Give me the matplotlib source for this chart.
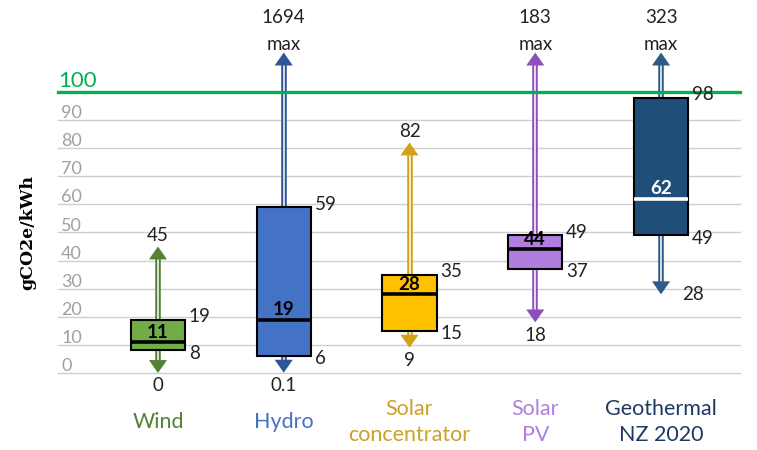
import numpy as np
import matplotlib.pyplot as plt
from matplotlib.patches import Rectangle, Polygon

# data (gCO2e/kWh)
categories = ['Wind', 'Hydro', 'Solar\nconcentrator', 'Solar\nPV', 'Geothermal\nNZ 2020']
mins = [0, 0.1, 9, 18, 28]
q1 = [8, 6, 15, 37, 49]
medians = [11, 19, 28, 44, 62]
q3 = [19, 59, 35, 49, 98]
maxs = [45, 1694, 82, 183, 323]
gridVals = [0, 10, 20, 30, 40, 50, 60, 70, 80, 90]
threshold = 100

boxColors = ['#70AD47', '#4472C4', '#FFC000', '#B07EDE', '#1F4E79']
arrowColors = ['#548235', '#2F5597', '#D4A017', '#8E50B8', '#2E5A87']
labelColors = ['#548235', '#4472C4', '#C9A227', '#B07EDE', '#203864']
medianColors = ['black', 'black', 'black', 'black', 'white']
minSide = ['below', 'below', 'below', 'below', 'right']

plt.rcParams['font.family'] = ['Lato', 'DejaVu Sans']

fig = plt.figure(figsize=(7.57, 4.5), dpi=100)
ax = fig.add_axes([0, 0, 1, 1])
ax.set_xlim(-1.256, 4.763)
ax.set_ylim(-27.4, 132.7)
ax.axis('off')

txtColor = '#222222'
numSize = 13.5
capVal = 114          # arrows beyond the plot are cut here
headH = 4.6           # arrow head height (data units)
headW = 0.072         # half width of arrow head
boxW = 0.215          # half width of box

# gridlines and tick labels
for v in gridVals:
    ax.plot([-0.795, 4.628], [v, v], color='#CFCFCF', lw=1.0, zorder=0)
    ax.text(-0.77, v - 0.4, str(v), color='#A0A0A0', fontsize=13, ha='left', va='bottom', zorder=1)
ax.plot([-0.795, 4.628], [threshold, threshold], color='#00B050', lw=2.4, zorder=2.5)
ax.text(-0.79, threshold + 0.5, str(threshold), color='#00B050', fontsize=16, ha='left', va='bottom')

ax.text(-1.035, 50, 'gCO2e/kWh', rotation=90, fontsize=12.5, fontweight='bold',
        family='DejaVu Serif', ha='center', va='center', color='black')


def drawArrow(x, start, tip, color):
    d = 1 if tip > start else -1
    base = tip - d * headH
    if (base - start) * d > 0:
        ax.plot([x, x], [start, base + d * 0.3], color=color, lw=4.0, solid_capstyle='butt', zorder=2)
        ax.plot([x, x], [start, base + d * 0.3], color='white', lw=1.1, solid_capstyle='butt', zorder=2.1)
    ax.add_patch(Polygon([[x - headW, base], [x + headW, base], [x, tip]], closed=True,
                         facecolor=color, edgecolor='none', zorder=2.2))


for i in range(len(categories)):
    # whiskers
    top = min(maxs[i], capVal)
    drawArrow(i, q3[i], top, arrowColors[i])
    drawArrow(i, q1[i], mins[i], arrowColors[i])

    # box
    ax.add_patch(Rectangle((i - boxW, q1[i]), 2 * boxW, q3[i] - q1[i], facecolor=boxColors[i],
                           edgecolor='black', lw=1.5, zorder=3))
    ax.plot([i - boxW, i + boxW], [medians[i], medians[i]], color=medianColors[i], lw=2.6, zorder=4,
            solid_capstyle='butt')
    ax.text(i, medians[i] + 0.5, str(medians[i]), color=medianColors[i], fontsize=numSize,
            fontweight='bold', ha='center', va='bottom', zorder=5)

    # quartile labels
    ax.text(i + boxW + 0.03, q3[i] + 1, str(q3[i]), color=txtColor, fontsize=numSize, ha='left', va='center')
    ax.text(i + boxW + 0.03, q1[i] - 1, str(q1[i]), color=txtColor, fontsize=numSize, ha='left', va='center')

    # max label
    if maxs[i] > capVal:
        ax.text(i, 117, 'max', color=txtColor, fontsize=numSize, ha='center', va='center')
        ax.text(i, 126.5, str(maxs[i]), color=txtColor, fontsize=numSize, ha='center', va='center')
    else:
        ax.text(i, maxs[i] + 3.8, str(maxs[i]), color=txtColor, fontsize=numSize, ha='center', va='center')

    # min label
    if minSide[i] == 'below':
        ax.text(i, mins[i] - 4.5, str(mins[i]), color=txtColor, fontsize=numSize, ha='center', va='center')
    else:
        ax.text(i + 0.17, mins[i], str(mins[i]), color=txtColor, fontsize=numSize, ha='left', va='center')

    # category label
    ax.text(i, -17.4, categories[i], color=labelColors[i], fontsize=15.5, ha='center', va='center',
            linespacing=1.35)

fig.savefig('out.png', dpi=100)
